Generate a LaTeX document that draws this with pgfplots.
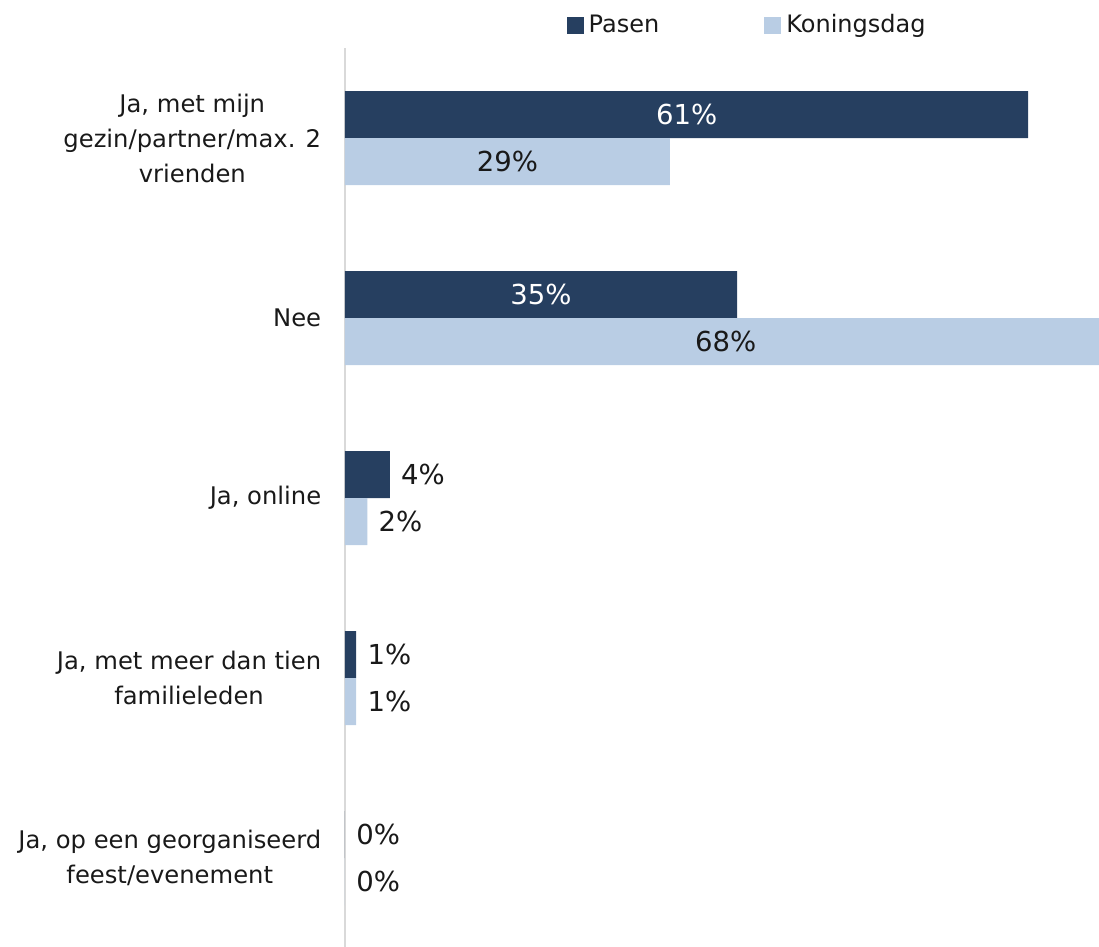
\documentclass[border=0pt]{standalone}
\usepackage{fontspec}
\setmainfont{DejaVu Sans}
\usepackage{pgfplots}
\pgfplotsset{compat=1.18}
\definecolor{pasen}{RGB}{38,63,96}
\definecolor{koning}{RGB}{185,205,228}
\definecolor{txt}{RGB}{25,25,25}
\begin{document}
\begin{tikzpicture}
\useasboundingbox (0,0) rectangle (439.6pt,378.4pt);
\begin{axis}[
    at={(138pt,-0.8pt)}, anchor=south west,
    scale only axis, width=304.64pt, height=360pt,
    xbar, bar width=18.8pt,
    xmin=0, xmax=68, ymin=-0.5, ymax=4.5,
    axis x line=none, axis y line*=left,
    axis line style={-, draw=black!15, line width=0.8pt},
    ytick={0,1,2,3,4}, major tick length=0,
    yticklabels={{Ja, op een georganiseerd\\feest/evenement},
                 {Ja, met meer dan tien\\familieleden},
                 {Ja, online},
                 {Nee},
                 {Ja, met mijn\\gezin/partner/max. 2\\vrienden}},
    yticklabel style={align=center, font=\fontsize{9.7}{14}\selectfont, text=txt, xshift=-6pt},
    /pgf/number format/assume math mode=true,
    point meta=rawx,
    nodes near coords={\pgfmathprintnumber{\pgfplotspointmeta}\%},
    every node near coord/.append style={font=\fontsize{11}{14}\selectfont, text=txt},
    legend style={at={(0.53,1.025)}, anchor=center, draw=none, fill=none,
        legend columns=2, font=\fontsize{9.6}{12}\selectfont, text=txt,
        /tikz/every even column/.append style={column sep=40pt}},
    legend image code/.code={\fill[#1, draw=none] (-1pt,-3.4pt) rectangle (5.8pt,3.4pt);},
]
% bars with labels inside
\addplot[fill=pasen, draw=none, bar shift=9.4pt,
    visualization depends on=rawx \as \rawx,
    every node near coord/.append style={anchor=center, text=white, xshift={-\rawx*2.24pt}}]
    coordinates {(61,4) (35,3)};
\addlegendentry{Pasen}
\addplot[fill=koning, draw=none, bar shift=-9.4pt,
    visualization depends on=rawx \as \rawx,
    every node near coord/.append style={anchor=center, xshift={-\rawx*2.24pt}}]
    coordinates {(29,4) (68,3)};
\addlegendentry{Koningsdag}
% small bars with labels outside
\addplot[fill=pasen, draw=none, bar shift=9.4pt, forget plot,
    every node near coord/.append style={anchor=west, xshift=1pt}]
    coordinates {(4,2) (1,1) (0,0)};
\addplot[fill=koning, draw=none, bar shift=-9.4pt, forget plot,
    every node near coord/.append style={anchor=west, xshift=1pt}]
    coordinates {(2,2) (1,1) (0,0)};
\end{axis}
\end{tikzpicture}
\end{document}
